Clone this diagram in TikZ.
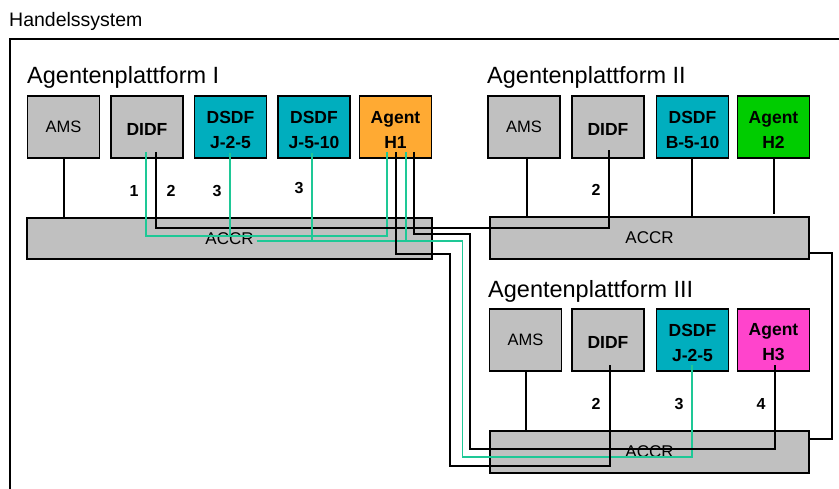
\documentclass[tikz,border=0pt]{standalone}
\usepackage{fontspec}
\setmainfont{Liberation Sans}
\definecolor{busgray}{RGB}{192,192,192}
\definecolor{dsdfteal}{RGB}{0,174,190}
\definecolor{agentorange}{RGB}{255,170,51}
\definecolor{agentgreen}{RGB}{0,204,0}
\definecolor{agentpink}{RGB}{255,68,204}
\definecolor{wiregreen}{RGB}{30,200,150}
\begin{document}
\begin{tikzpicture}[x=1pt,y=-1pt,
  boxtext/.style={inner sep=0pt, align=center, font=\fontsize{17.5}{25}\selectfont\bfseries, yshift=-2.5pt},
  bbox/.style={draw=black, line width=1.8pt, minimum width=72pt, minimum height=62pt, inner sep=0pt,
    label={[boxtext]center:#1}},
  rbox/.style={draw=black, line width=1.8pt, minimum width=72pt, minimum height=62pt, inner sep=0pt,
    fill=busgray, font=\fontsize{16.5}{19}\selectfont},
  bus/.style={draw=black, line width=1.8pt, fill=busgray, inner sep=0pt, font=\fontsize{17}{19}\selectfont},
  wire/.style={line width=1.6pt, black},
  gwire/.style={line width=1.6pt, wiregreen},
  num/.style={inner sep=0pt, font=\fontsize{16}{18}\selectfont\bfseries},
  ptitle/.style={anchor=base west, inner sep=0pt, font=\fontsize{23.5}{26}\selectfont}]

\clip (0,0) rectangle (839,488);
\fill[white] (0,0) rectangle (839,488);

% outer frame of the trading system
\node[anchor=base west, inner sep=0pt, font=\fontsize{19.5}{22}\selectfont] (sys) at (9,26.5) {Handelssystem};
\draw[line width=2.2pt] (850,39) -- (10,39) -- (10,500);

% platform titles
\node[ptitle] (p1) at (27,83) {Agentenplattform I};
\node[ptitle] (p2) at (487,83) {Agentenplattform II};
\node[ptitle] (p3) at (488,297) {Agentenplattform III};

% platform I
\node[rbox] (AMS1) at (63.5,127) {AMS};
\node[bbox={DIDF}, fill=busgray] (DIDF1) at (147,127) {};
\node[bbox={DSDF\\J-2-5}, fill=dsdfteal] (J25a) at (230.5,127) {};
\node[bbox={DSDF\\J-5-10}, fill=dsdfteal] (J510) at (314,127) {};
\node[bbox={Agent\\H1}, fill=agentorange] (H1) at (395.5,127) {};
\node[bus, minimum width=405pt, minimum height=41pt] (ACCR1) at (229.5,238.5) {ACCR};

% platform II
\node[rbox] (AMS2) at (524,127) {AMS};
\node[bbox={DIDF}, fill=busgray] (DIDF2) at (608,127) {};
\node[bbox={DSDF\\B-5-10}, fill=dsdfteal] (B510) at (692.5,127) {};
\node[bbox={Agent\\H2}, fill=agentgreen] (H2) at (773.5,127) {};
\node[bus, minimum width=319pt, minimum height=42pt] (ACCR2) at (649.5,238) {ACCR};

% platform III
\node[rbox] (AMS3) at (525.5,340) {AMS};
\node[bbox={DIDF}, fill=busgray] (DIDF3) at (608,340) {};
\node[bbox={DSDF\\J-2-5}, fill=dsdfteal] (J25b) at (692.5,340) {};
\node[bbox={Agent\\H3}, fill=agentpink] (H3) at (773.5,340) {};
\node[bus, minimum width=319pt, minimum height=42pt] (ACCR3) at (649.5,452) {ACCR};

% local attachments to the ACCR buses
\draw[wire] ([xshift=0.5pt]AMS1.south) -- ([xshift=0.5pt]AMS1.south |- ACCR1.north);
\draw[wire] ([xshift=3pt]AMS2.south) -- ([xshift=3pt]AMS2.south |- ACCR2.north);
\draw[wire] ([xshift=-0.5pt]B510.south) -- ([xshift=-0.5pt]B510.south |- ACCR2.north);
\draw[wire] ([xshift=0.5pt]H2.south) -- ++(0,55);
\draw[wire] ([xshift=0.5pt]AMS3.south) -- ([xshift=0.5pt]AMS3.south |- ACCR3.north);

% 1: DIDF I -- Agent H1
\draw[gwire] ([xshift=-1pt,yshift=7pt]DIDF1.south) -- ++(0,84) coordinate (g1)
  -| ([xshift=-8.5pt,yshift=7pt]H1.south);
% 2: DIDF I -- DIDF II
\draw[wire] ([xshift=9pt,yshift=7pt]DIDF1.south) -- ++(0,76)
  -| ([xshift=1pt,yshift=9pt]DIDF2.south);
% 3: DSDF agents
\draw[gwire] ([xshift=-0.5pt,yshift=6pt]J25a.south) -- ([xshift=-0.5pt]J25a.south |- g1);
\draw[gwire] ([xshift=-2pt,yshift=6pt]J510.south) -- ++(0,89);
\draw[gwire] ([xshift=10.5pt,yshift=7pt]H1.south) -- ++(0,90);
\draw[gwire] ([xshift=27pt,yshift=-2.5pt]ACCR1.center) -- ++(206,0) -- ++(0,216)
  -| ([xshift=-0.5pt,yshift=7pt]J25b.south);
% 2: Agent H1 -- DIDF III
\draw[wire] ([xshift=0.5pt,yshift=7pt]H1.south) -- ++(0,102) -- ++(54,0) -- ++(0,212)
  -| ([xshift=2pt,yshift=7pt]DIDF3.south);
% 4: Agent H1 -- Agent H3
\draw[wire] ([xshift=18.5pt,yshift=7pt]H1.south) -- ++(0,82) -- ++(56,0) -- ++(0,215)
  -| ([xshift=1.5pt,yshift=7pt]H3.south);
% ACCR II -- ACCR III
\draw[wire] ([yshift=-15pt]ACCR2.east) -- ++(22,0) |- ([yshift=13pt]ACCR3.east);

% message numbers
\node[num] (n1) at (134,190.5) {1};
\node[num] (n2) at (171,190.5) {2};
\node[num] (n3) at (217,190.5) {3};
\node[num] (n3b) at (299,188) {3};
\node[num] (n2b) at (596,190) {2};
\node[num] (n2c) at (596,404) {2};
\node[num] (n3c) at (679,404) {3};
\node[num] (n4) at (761,404) {4};
\end{tikzpicture}
\end{document}
